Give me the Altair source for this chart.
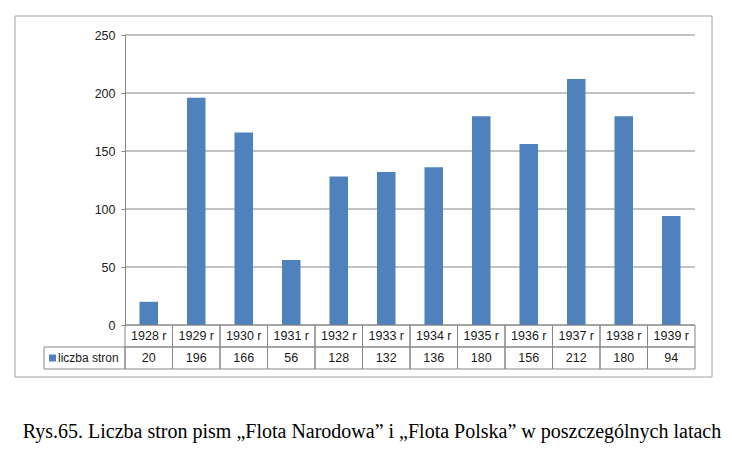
import altair as alt
import pandas as pd

years = ["1928 r", "1929 r", "1930 r", "1931 r", "1932 r", "1933 r",
         "1934 r", "1935 r", "1936 r", "1937 r", "1938 r", "1939 r"]
values = [20, 196, 166, 56, 128, 132, 136, 180, 156, 212, 180, 94]
series_name = "liczba stron"
y_ticks = [0, 50, 100, 150, 200, 250]
caption = "Rys.65. Liczba stron pism \u201eFlota Narodowa\u201d i \u201eFlota Polska\u201d w poszczeg\u00f3lnych latach"

BLUE = "#4F81BD"
GRID = "#868686"
FONT = "Liberation Sans"
W, H = 570, 290

bars_df = pd.DataFrame({"year": years, "value": values})
grid_df = pd.DataFrame({"v": y_ticks})
rows = ["h", "v"]
table_df = pd.DataFrame(
    [{"year": y, "row": "h", "label": y} for y in years]
    + [{"year": y, "row": "v", "label": str(v)} for y, v in zip(years, values)]
)
legend_df = pd.DataFrame({"row": ["v"], "label": [series_name]})
one_df = pd.DataFrame({"c": [caption]})

yscale = alt.Scale(domain=[0, 250], range=[H, 0])
tx = alt.X("year:N", sort=years, scale=alt.Scale(paddingInner=0, paddingOuter=0), axis=None)
ty = alt.Y("row:N", sort=rows, scale=alt.Scale(domain=rows, range=[H, H + 44], paddingInner=0, paddingOuter=0), axis=None)

grid = alt.Chart(grid_df).mark_rule(color=GRID, strokeWidth=1).encode(
    y=alt.Y("v:Q", scale=yscale, axis=None),
    x=alt.value(0), x2=alt.value(W),
)

bars = alt.Chart(bars_df).mark_bar(color=BLUE).encode(
    x=alt.X("year:N", sort=years,
            scale=alt.Scale(paddingInner=0.61, paddingOuter=0.305), axis=None),
    y=alt.Y("value:Q", scale=yscale,
            axis=alt.Axis(values=y_ticks, title=None, grid=False,
                          domainColor=GRID, tickColor=GRID, tickSize=4,
                          labelPadding=6, labelFont=FONT, labelFontSize=12.5,
                          labelColor="#222")),
)

cells = alt.Chart(table_df).mark_rect(fill="white", fillOpacity=0, stroke=GRID, strokeWidth=1).encode(
    x=tx, y=ty,
)

cell_text = alt.Chart(table_df).mark_text(font=FONT, fontSize=12.5, color="#1a1a1a").encode(
    x=tx, y=ty, text="label:N",
)

legend_cell = alt.Chart(legend_df).mark_rect(fill="white", fillOpacity=0, stroke=GRID, strokeWidth=1).encode(
    y=ty, x=alt.value(-81), x2=alt.value(0),
)
legend_sq = alt.Chart(legend_df).mark_square(color=BLUE, size=49, opacity=1).encode(
    y=ty, x=alt.value(-72.5),
)
legend_text = alt.Chart(legend_df).mark_text(font=FONT, fontSize=12, color="#1a1a1a", align="left").encode(
    y=ty, x=alt.value(-67), text="label:N",
)

frame = alt.Chart(one_df).mark_rect(fill="white", fillOpacity=0, stroke="#a0a0a0", strokeWidth=1).encode(
    x=alt.value(-110), x2=alt.value(587), y=alt.value(-19), y2=alt.value(342),
)

cap = alt.Chart(one_df).mark_text(font="Liberation Serif", fontSize=20, color="#000").encode(
    x=alt.value(247), y=alt.value(397), text="c:N",
)

chart = alt.layer(
    frame, grid, bars, cells, cell_text, legend_cell, legend_sq, legend_text, cap
).resolve_scale(x="independent", y="independent").properties(
    width=W, height=H,
    autosize="none",
    padding={"left": 125, "top": 35, "right": 37, "bottom": 135},
    background="white",
).configure_view(stroke=None)

chart.save("out.html", embed_options={"renderer": "svg", "actions": False})
